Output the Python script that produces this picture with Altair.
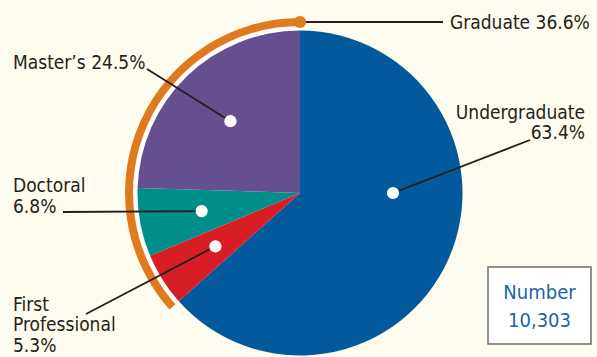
import math
import altair as alt
import pandas as pd

# ---------------- data ----------------
categories = ["Undergraduate", "First Professional", "Doctoral", "Master’s"]
percents = [63.4, 5.3, 6.8, 24.5]
slice_colors = ["#02599B", "#D71E27", "#008E8A", "#654F8E"]
groups = ["Undergraduate", "Graduate"]
group_percents = [63.4, 36.6]
total_title = "Number"
total_value = "10,303"

# ---------------- layout ----------------
W, H = 597, 357
CX, CY, R = 300, 193, 162.5
RING_IN, RING_MID, RING_OUT = 162.5, 167, 175
FONT = "DejaVu Sans Condensed, Liberation Sans"
TXT = "#231F20"
ORANGE = "#E07A1F"

xs = alt.Scale(domain=[0, W], range=[0, W])
ys = alt.Scale(domain=[0, H], range=[0, H])

def X(f="x"):
    return alt.X(f"{f}:Q", scale=xs, axis=None)

def Y(f="y"):
    return alt.Y(f"{f}:Q", scale=ys, axis=None)

# pie
pie_df = pd.DataFrame({"cat": categories, "pct": percents, "idx": list(range(len(categories)))})
pie_df["x"] = CX
pie_df["y"] = CY
pie = alt.Chart(pie_df).mark_arc(radius=R).encode(
    x=X(), y=Y(),
    theta=alt.Theta("pct:Q", stack=True),
    order=alt.Order("idx:Q"),
    color=alt.Color("cat:N", scale=alt.Scale(domain=categories, range=slice_colors), legend=None),
)

# ring around graduate share
ring_df = pd.DataFrame({"grp": groups, "pct": group_percents, "idx": [0, 1]})
ring_df["x"] = CX
ring_df["y"] = CY
ring_base = alt.Chart(ring_df).encode(
    x=X(), y=Y(),
    theta=alt.Theta("pct:Q", stack=True),
    order=alt.Order("idx:Q"),
    opacity=alt.Opacity("grp:N", scale=alt.Scale(domain=groups, range=[0, 1]), legend=None),
)
ring_white = ring_base.mark_arc(radius=RING_MID, radius2=RING_IN, color="white")
ring_orange = ring_base.mark_arc(radius=RING_OUT, radius2=RING_MID, color=ORANGE)

# dot positions (mid angle of each slice, undergraduate dot placed at 90 deg)
cum = 0.0
dot_rows = []
dot_override = {"Undergraduate": (90.0, 93.0)}
for c, p in zip(categories, percents):
    mid = (cum + p / 2) / 100 * 360
    cum += p
    ang, rr = dot_override.get(c, (mid, 100.0))
    a = math.radians(ang)
    dot_rows.append({"cat": c, "x": CX + rr * math.sin(a), "y": CY - rr * math.cos(a)})
dots_df = pd.DataFrame(dot_rows)

grad_r = (RING_MID + RING_OUT) / 2
grad_dot = {"x": CX, "y": CY - grad_r}

# leader lines: label anchor -> dot
anchors = {
    "Undergraduate": (530, 140),
    "First Professional": (86, 314),
    "Doctoral": (63, 212),
    "Master’s": (147, 69),
}
lines = []
for r_ in dot_rows:
    ax, ay = anchors[r_["cat"]]
    lines.append({"x": ax, "y": ay, "x2": r_["x"], "y2": r_["y"]})
lines.append({"x": grad_dot["x"], "y": grad_dot["y"], "x2": 443, "y2": grad_dot["y"]})
lines_df = pd.DataFrame(lines)

leaders = alt.Chart(lines_df).mark_rule(color=TXT, strokeWidth=1.8).encode(
    x=X(), y=Y(), x2="x2:Q", y2="y2:Q",
)

dots = alt.Chart(dots_df).mark_circle(size=150, color="white", opacity=1).encode(x=X(), y=Y())
gdot = alt.Chart(pd.DataFrame([grad_dot])).mark_circle(size=150, color=ORANGE, opacity=1).encode(x=X(), y=Y())

# labels
pct = dict(zip(categories, percents))
gpct = dict(zip(groups, group_percents))
label_rows = [
    {"t": f"Graduate {gpct['Graduate']}%", "x": 450, "y": 29, "al": "left"},
    {"t": f"Master’s {pct['Master’s']}%", "x": 13, "y": 69, "al": "left"},
    {"t": "Undergraduate", "x": 585, "y": 119, "al": "right"},
    {"t": f"{pct['Undergraduate']}%", "x": 585, "y": 139, "al": "right"},
    {"t": "Doctoral", "x": 13, "y": 192, "al": "left"},
    {"t": f"{pct['Doctoral']}%", "x": 13, "y": 213, "al": "left"},
    {"t": "First", "x": 13, "y": 311, "al": "left"},
    {"t": "Professional", "x": 13, "y": 331, "al": "left"},
    {"t": f"{pct['First Professional']}%", "x": 13, "y": 352, "al": "left"},
]
lab_df = pd.DataFrame(label_rows)
lab_left = alt.Chart(lab_df[lab_df.al == "left"]).mark_text(
    align="left", baseline="alphabetic", font=FONT, fontSize=19, color=TXT
).encode(x=X(), y=Y(), text="t:N")
lab_right = alt.Chart(lab_df[lab_df.al == "right"]).mark_text(
    align="right", baseline="alphabetic", font=FONT, fontSize=19, color=TXT
).encode(x=X(), y=Y(), text="t:N")

# total box
box = alt.Chart(pd.DataFrame([{"x": 488, "x2": 591, "y": 267, "y2": 344}])).mark_rect(
    fill="white", stroke="#6E6E6E", strokeWidth=1.5
).encode(x=X(), x2="x2:Q", y=Y(), y2="y2:Q")
box_txt = alt.Chart(pd.DataFrame([
    {"t": total_title, "x": 539.5, "y": 299},
    {"t": total_value, "x": 539.5, "y": 327},
])).mark_text(align="center", baseline="alphabetic", font=FONT, fontSize=20, color="#1767A8").encode(
    x=X(), y=Y(), text="t:N"
)

chart = alt.layer(
    ring_white, ring_orange, pie, leaders, dots, gdot, lab_left, lab_right, box, box_txt
).resolve_scale(
    theta="independent", color="independent"
).properties(
    width=W, height=H, padding=0, autosize="none", background="#FEFCEE"
).configure_view(strokeWidth=0)

chart.save("out.html", embed_options={"renderer": "svg", "actions": False})
